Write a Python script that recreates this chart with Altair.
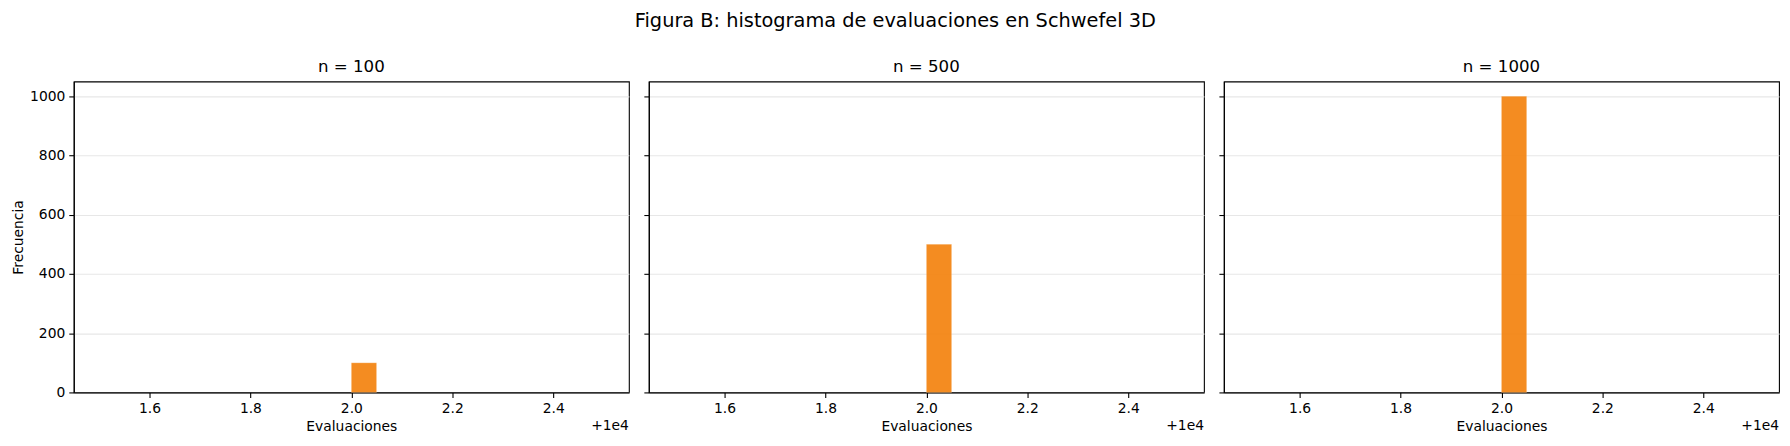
import altair as alt
import pandas as pd

# ---- data ----
panel_titles = ["n = 100", "n = 500", "n = 1000"]
bin_start = [10002.0, 10002.0, 10002.0]
bin_end = [10002.05, 10002.05, 10002.05]
counts = [100, 500, 1000]
x_ticks = [10001.6, 10001.8, 10002.0, 10002.2, 10002.4]
y_ticks = [0, 200, 400, 600, 800, 1000]
suptitle = "Figura B: histograma de evaluaciones en Schwefel 3D"

FONT = "DejaVu Sans"
W, H = 557, 312

panels = []
for i, t in enumerate(panel_titles):
    df = pd.DataFrame({"x": [bin_start[i]], "x2": [bin_end[i]], "count": [counts[i]]})
    first = i == 0
    xenc = alt.X(
        "x:Q",
        scale=alt.Scale(domain=[10001.45, 10002.55], nice=False, zero=False),
        axis=alt.Axis(
            values=x_ticks,
            labelExpr="format(datum.value - 10000, '.1f')",
            title="Evaluaciones",
            grid=False,
        ),
    )
    yaxis = alt.Axis(
        values=y_ticks,
        format="d",
        grid=True,
        labels=first,
        title="Frecuencia" if first else None,
    )
    yenc = alt.Y("count:Q", scale=alt.Scale(domain=[0, 1050], nice=False), axis=yaxis)
    bar = alt.Chart().mark_rect(
        color="#f4830f", opacity=0.92, stroke="white", strokeWidth=0.5, strokeOpacity=0.4
    ).encode(x=xenc, x2="x2:Q", y=yenc, y2=alt.datum(0))
    txt = alt.Chart().mark_text(
        text="+1e4", align="right", baseline="middle", font=FONT, fontSize=13.9, color="black"
    ).encode(x=alt.value(W), y=alt.value(H + 34))
    p = alt.layer(bar, txt, data=df).properties(
        width=W,
        height=H,
        title=alt.TitleParams(t, fontSize=16.7, font=FONT, fontWeight="normal", offset=6, color="black"),
    )
    panels.append(p)

chart = alt.hconcat(*panels, spacing=12).properties(
    title=alt.TitleParams(
        suptitle, fontSize=19.4, font=FONT, fontWeight="normal", anchor="middle", offset=27, color="black"
    ),
    padding={"left": 3, "right": 2, "top": 2, "bottom": 0},
).configure_view(stroke="black", strokeWidth=1.1).configure_axis(
    labelFont=FONT,
    labelFontSize=13.9,
    labelColor="black",
    titleFont=FONT,
    titleFontSize=13.9,
    titleFontWeight="normal",
    titleColor="black",
    domainColor="black",
    domainWidth=1.1,
    tickColor="black",
    tickWidth=1.1,
    tickSize=5,
    labelPadding=4,
    gridColor="#e7e7e7",
    gridWidth=1.1,
)

chart.save("out.html", embed_options={"renderer": "svg", "actions": False})
